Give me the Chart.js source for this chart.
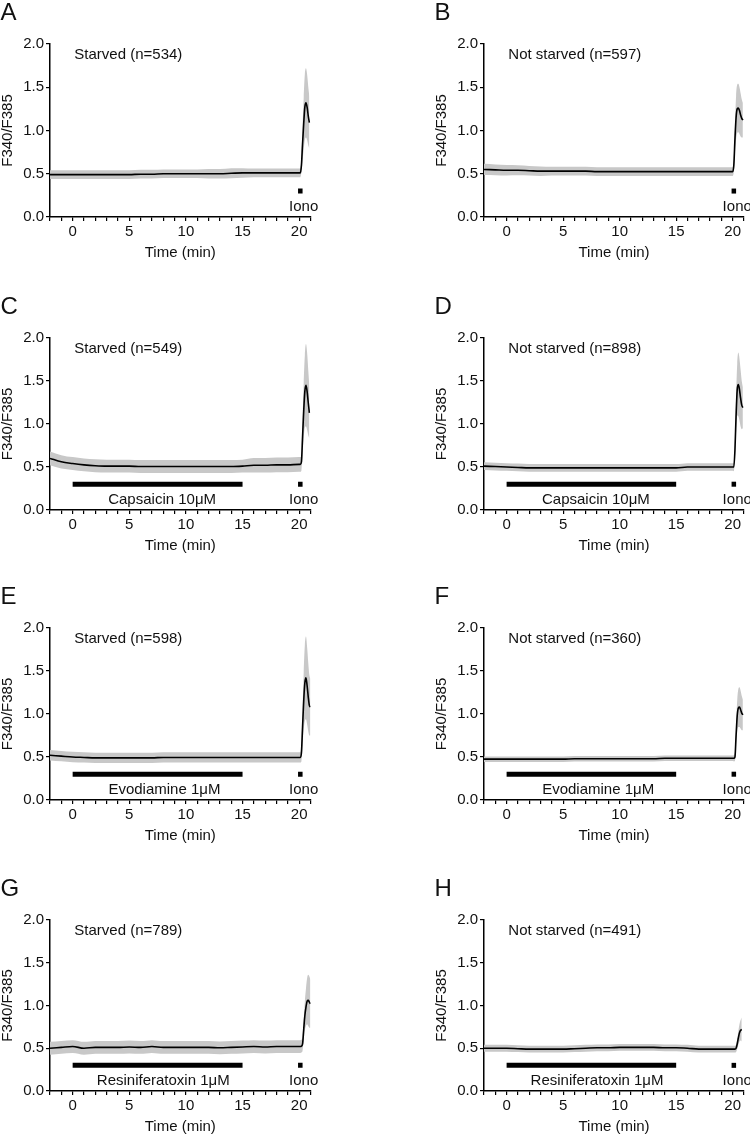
<!DOCTYPE html>
<html><head><meta charset="utf-8">
<script src="https://cdn.jsdelivr.net/npm/chart.js@4"></script>
<style>
html,body{margin:0;padding:0;background:#fff;}
body{width:750px;height:1138px;position:relative;overflow:hidden;}
canvas{position:absolute;}
</style></head><body>
<script>
// ---- data ----
const time = [-2,-1,0,1,2,3,4,5,6,7,8,9,10,11,12,13,14,15,16,17,18,19,20,20.1,20.2,20.3,20.4,20.5,20.6,20.7,20.8,20.9,21];

const meanA = [0.49,0.49,0.49,0.49,0.49,0.49,0.49,0.49,0.495,0.495,0.50,0.50,0.50,0.50,0.50,0.50,0.505,0.51,0.51,0.51,0.51,0.51,0.51, 0.51,0.60,0.85,1.08,1.27,1.32,1.27,1.17,1.09,null];
const sdA   = [0.05,0.05,0.05,0.05,0.05,0.05,0.05,0.05,0.05,0.05,0.05,0.05,0.05,0.05,0.055,0.055,0.058,0.055,0.05,0.05,0.05,0.05,0.05, 0.05,0.08,0.2,0.3,0.38,0.4,0.38,0.34,0.3,null];

const meanB = [0.55,0.545,0.54,0.54,0.535,0.53,0.53,0.53,0.53,0.53,0.525,0.525,0.525,0.525,0.525,0.525,0.525,0.525,0.525,0.525,0.525,0.525,0.525, 0.6,0.9,1.15,1.25,1.26,1.23,1.18,1.14,1.12,null];
const sdB   = [0.065,0.062,0.06,0.058,0.055,0.055,0.05,0.05,0.05,0.05,0.05,0.05,0.05,0.05,0.05,0.05,0.05,0.05,0.05,0.05,0.05,0.05,0.05, 0.07,0.15,0.25,0.28,0.28,0.27,0.25,0.22,0.2,null];

const meanC = [0.60,0.56,0.54,0.525,0.515,0.51,0.51,0.51,0.505,0.505,0.505,0.505,0.505,0.505,0.505,0.505,0.505,0.51,0.52,0.52,0.525,0.525,0.53, 0.53,0.56,0.85,1.15,1.38,1.45,1.38,1.25,1.13,null];
const sdC   = [0.08,0.078,0.075,0.075,0.075,0.075,0.075,0.075,0.075,0.075,0.075,0.075,0.075,0.075,0.075,0.075,0.075,0.075,0.085,0.085,0.085,0.085,0.085, 0.085,0.1,0.2,0.32,0.42,0.48,0.45,0.38,0.3,null];

const meanD = [0.51,0.505,0.50,0.495,0.49,0.49,0.49,0.49,0.49,0.49,0.49,0.49,0.49,0.49,0.49,0.49,0.49,0.49,0.50,0.50,0.50,0.50,0.50, 0.50,0.7,1.1,1.4,1.46,1.4,1.3,1.22,1.19,null];
const sdD   = [0.045,0.045,0.045,0.045,0.045,0.045,0.045,0.045,0.045,0.045,0.045,0.045,0.045,0.045,0.045,0.045,0.045,0.045,0.045,0.045,0.045,0.045,0.045, 0.05,0.1,0.2,0.3,0.37,0.36,0.33,0.28,0.24,null];

const meanE = [0.52,0.51,0.50,0.495,0.49,0.49,0.49,0.49,0.49,0.49,0.495,0.495,0.495,0.495,0.495,0.495,0.495,0.495,0.495,0.495,0.495,0.495,0.495, 0.495,0.55,0.85,1.15,1.36,1.42,1.33,1.2,1.1,1.08];
const sdE   = [0.06,0.06,0.06,0.06,0.06,0.06,0.06,0.06,0.06,0.06,0.06,0.06,0.06,0.06,0.06,0.06,0.06,0.06,0.06,0.06,0.06,0.06,0.06, 0.06,0.1,0.2,0.33,0.44,0.48,0.45,0.4,0.35,0.33];

const meanF = [0.475,0.475,0.475,0.475,0.475,0.475,0.475,0.475,0.48,0.48,0.48,0.48,0.48,0.48,0.48,0.48,0.485,0.485,0.485,0.485,0.485,0.485,0.485, 0.485,0.5,0.75,0.98,1.07,1.08,1.05,1.01,0.99,null];
const sdF   = [0.032,0.032,0.032,0.032,0.032,0.032,0.032,0.032,0.032,0.032,0.032,0.032,0.032,0.032,0.032,0.032,0.032,0.032,0.032,0.032,0.032,0.032,0.032, 0.035,0.05,0.12,0.18,0.22,0.23,0.22,0.2,0.18,null];

const meanG = [0.50,0.51,0.52,0.50,0.51,0.51,0.51,0.515,0.51,0.52,0.51,0.51,0.51,0.51,0.51,0.505,0.51,0.515,0.52,0.515,0.52,0.52,0.52, 0.52,0.525,0.55,0.72,0.88,0.98,1.05,1.06,1.04,1.02];
const sdG   = [0.075,0.075,0.075,0.075,0.075,0.075,0.075,0.075,0.075,0.075,0.075,0.075,0.075,0.075,0.075,0.075,0.075,0.075,0.075,0.075,0.075,0.075,0.075, 0.075,0.075,0.08,0.12,0.17,0.22,0.27,0.3,0.3,0.28];

const meanH = [0.50,0.50,0.50,0.495,0.49,0.49,0.49,0.49,0.495,0.50,0.505,0.505,0.51,0.51,0.51,0.51,0.505,0.505,0.50,0.49,0.49,0.49,0.49, 0.49,0.49,0.5,0.55,0.62,0.68,0.71,0.72,null,null];
const sdH   = [0.04,0.04,0.04,0.04,0.04,0.04,0.04,0.04,0.04,0.04,0.04,0.04,0.04,0.04,0.04,0.04,0.04,0.04,0.04,0.04,0.04,0.04,0.04, 0.04,0.04,0.045,0.06,0.08,0.1,0.12,0.14,null,null];

const panelLetters = ['A','B','C','D','E','F','G','H'];
const panelTitles = ['Starved (n=534)','Not starved (n=597)','Starved (n=549)','Not starved (n=898)',
                     'Starved (n=598)','Not starved (n=360)','Starved (n=789)','Not starved (n=491)'];
const drugNames = [null,null,'Capsaicin 10μM','Capsaicin 10μM','Evodiamine 1μM','Evodiamine 1μM','Resiniferatoxin 1μM','Resiniferatoxin 1μM'];
const drugLabelX = [null,null,7.9,7.9,8.1,8.1,8.0,8.0];
const drugWindow = [0, 15];
const ionoWindow = [19.9, 20.3];
const markerLevel = 0.3;
const means = [meanA,meanB,meanC,meanD,meanE,meanF,meanG,meanH];
const sds = [sdA,sdB,sdC,sdD,sdE,sdF,sdG,sdH];

// ---- layout ----
const rows = [{top:0,h:290,ca:44,cb:217},{top:290,h:290,ca:338,cb:510},{top:580,h:290,ca:628,cb:800},{top:860,h:278,ca:920,cb:1091}];
const cols = [{left:0,caL:50,caR:310.5},{left:375,caL:484,caR:744}];
const FONT = '"Liberation Sans", Arial, sans-serif';
Chart.defaults.font.family = FONT;
Chart.defaults.font.size = 15;
Chart.defaults.color = '#111';

const textPlugin = {
  id: 'txt',
  afterDraw(chart, args, o) {
    const {ctx, chartArea: ca, scales: {x, y}} = chart;
    ctx.save();
    ctx.fillStyle = '#111';
    ctx.font = '15px ' + FONT;
    ctx.textAlign = 'left'; ctx.textBaseline = 'middle';
    ctx.fillText(o.title, x.getPixelForValue(0.15), y.getPixelForValue(1.87));
    ctx.textAlign = 'center'; ctx.textBaseline = 'alphabetic';
    if (o.drug) ctx.fillText(o.drug, x.getPixelForValue(o.drugX), ca.bottom - 6.5);
    ctx.fillText('Iono', x.getPixelForValue(20.4), ca.bottom - 6.5);
    ctx.fillText('Time (min)', (ca.left + ca.right) / 2, ca.bottom + 40);
    ctx.save();
    ctx.translate(ca.left - 38, (ca.top + ca.bottom) / 2);
    ctx.rotate(-Math.PI / 2);
    ctx.fillText('F340/F385', 0, 0);
    ctx.restore();
    ctx.textAlign = 'left';
    ctx.font = '24px ' + FONT;
    ctx.fillText(o.letter, ca.left - 49.5, ca.top - 24.5);
    ctx.restore();
  }
};

for (let i = 0; i < 8; i++) {
  const r = rows[Math.floor(i / 2)], c = cols[i % 2];
  const cv = document.createElement('canvas');
  cv.width = 375; cv.height = r.h;
  cv.style.left = c.left + 'px'; cv.style.top = r.top + 'px';
  document.body.appendChild(cv);
  const m = means[i], s = sds[i];
  const line = time.map((t, k) => ({x: t, y: m[k]}));
  const up = time.map((t, k) => ({x: t, y: m[k] == null ? null : m[k] + s[k]}));
  const lo = time.map((t, k) => ({x: t, y: m[k] == null ? null : m[k] - s[k]}));
  const datasets = [
    {data: line, borderColor: '#000', borderWidth: 1.6, pointRadius: 0, cubicInterpolationMode: 'monotone', fill: false},
    {data: up, borderColor: 'rgba(0,0,0,0)', borderWidth: 0.01, pointRadius: 0, backgroundColor: '#c8c8c8', fill: '+1', cubicInterpolationMode: 'monotone'},
    {data: lo, borderColor: 'rgba(0,0,0,0)', borderWidth: 0.01, pointRadius: 0, fill: false, cubicInterpolationMode: 'monotone'},
    {data: ionoWindow.map(v => ({x: v, y: markerLevel})), borderColor: '#000', borderWidth: 5, borderCapStyle: 'butt', pointRadius: 0, fill: false}
  ];
  if (drugNames[i]) datasets.push({data: drugWindow.map(v => ({x: v, y: markerLevel})), borderColor: '#000', borderWidth: 5, borderCapStyle: 'butt', pointRadius: 0, fill: false});
  new Chart(cv, {
    type: 'line',
    data: {datasets},
    options: {
      responsive: false, animation: false, devicePixelRatio: 1,
      layout: {padding: {top: r.ca - r.top, right: 375 - (c.caR - c.left), left: 0, bottom: 0}},
      plugins: {legend: {display: false}, tooltip: {enabled: false},
        txt: {title: panelTitles[i], drug: drugNames[i], drugX: drugLabelX[i], letter: panelLetters[i]}},
      scales: {
        x: {type: 'linear', min: -2, max: 21,
          afterFit: sc => { sc.height = r.h - (r.cb - r.top); },
          ticks: {stepSize: 1, autoSkip: false, maxRotation: 0, minRotation: 0, maxTicksLimit: 40, padding: 2, color: '#111',
            callback: v => (v % 5 === 0 ? String(v) : '')},
          grid: {drawOnChartArea: false, color: '#000', tickLength: 4, lineWidth: 1.2},
          border: {color: '#000', width: 1.5}},
        y: {type: 'linear', min: 0, max: 2,
          afterFit: sc => { sc.width = c.caL - c.left; },
          ticks: {stepSize: 0.5, padding: 2, color: '#111', callback: v => Number(v).toFixed(1)},
          grid: {drawOnChartArea: false, color: '#000', tickLength: 4, lineWidth: 1.2},
          border: {color: '#000', width: 1.5}}
      }
    },
    plugins: [textPlugin]
  });
}
</script>
</body></html>
